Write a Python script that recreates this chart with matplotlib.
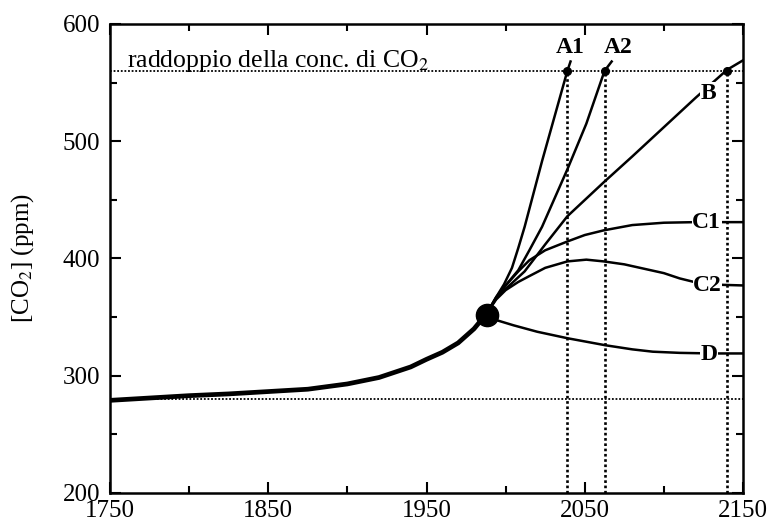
import matplotlib
matplotlib.use('Agg')
import matplotlib.pyplot as plt

plt.rcParams['font.family'] = ['Liberation Serif', 'DejaVu Serif']
plt.rcParams['mathtext.fontset'] = 'stix'

# curva storica
anni_storici = [1750, 1775, 1800, 1825, 1850, 1875, 1900, 1920, 1940, 1950, 1960, 1970, 1980, 1988]
co2_storico = [279, 281, 283, 284.5, 286.5, 288.5, 293, 298.5, 307.5, 314, 320, 328, 340, 353]

# scenari futuri
anni_A1 = [1988, 1994, 1999, 2004, 2008, 2012, 2023, 2039, 2041]
co2_A1 = [353, 367, 378, 392, 409, 427, 483, 560, 568]

anni_A2 = [1988, 1994, 2000, 2008, 2015, 2023, 2039, 2051, 2062.5, 2067]
co2_A2 = [353, 367, 377, 390, 407, 427, 476, 515, 560, 568]

anni_B = [1988, 1994, 2000, 2012, 2025, 2039, 2062, 2080, 2104, 2120, 2140, 2150]
co2_B = [353, 366, 374, 389, 412, 436, 465, 487, 517, 537, 561, 569]

anni_C1 = [1988, 1994, 2000, 2008, 2015, 2025, 2039, 2050, 2062, 2080, 2100, 2120, 2150]
co2_C1 = [353, 366, 377, 389, 398.5, 407, 414.5, 420, 424, 428.5, 430.5, 431, 431]

anni_C2 = [1988, 1994, 2000, 2008, 2015, 2025, 2039, 2051, 2062, 2075, 2085, 2100, 2110, 2125, 2150]
co2_C2 = [353, 365, 373, 380, 385, 392, 397.5, 399, 397.5, 395, 392, 387.5, 383, 378, 377]

anni_D = [1988, 1994, 2005, 2020, 2039, 2063, 2080, 2093, 2110, 2130, 2150]
co2_D = [352, 347.5, 343, 337.5, 332, 326, 322.5, 320.5, 319.5, 319, 319]

scenari = ['A1', 'A2', 'B', 'C1', 'C2', 'D']
pos_etichette = [(2041, 580), (2071, 580), (2128, 541), (2127, 430.5), (2127.5, 377), (2128.5, 318.5)]

co2_preindustriale = 280
co2_doppio = 560
anni_raddoppio = [2039, 2062.5, 2140]
punto_oggi = (1988, 352)

fig = plt.figure(figsize=(7.71, 5.25), dpi=100)
ax = fig.add_axes([0.1427, 0.061, 0.821, 0.8933])

dotted = (0, (1, 1))
ax.axhline(co2_doppio, color='black', lw=1.3, ls=dotted)
ax.axhline(co2_preindustriale, color='black', lw=1.3, ls=dotted)
ax.vlines(anni_raddoppio, 200, co2_doppio, colors='black', lw=1.9, linestyles=[dotted])

ax.plot(anni_storici, co2_storico, color='black', lw=3.4, solid_capstyle='round')
for xs, ys in [(anni_A1, co2_A1), (anni_A2, co2_A2), (anni_B, co2_B),
               (anni_C1, co2_C1), (anni_C2, co2_C2), (anni_D, co2_D)]:
    ax.plot(xs, ys, color='black', lw=1.8)

ax.plot(anni_raddoppio, [co2_doppio] * len(anni_raddoppio), 'o', color='black', ms=5.5)
ax.plot(*punto_oggi, 'o', color='black', ms=16)

for nome, (x, y) in zip(scenari, pos_etichette):
    ax.text(x, y, nome, fontsize=17, fontweight='bold', ha='center', va='center',
            bbox=dict(facecolor='white', edgecolor='none', pad=0.3))

ax.text(1761, co2_doppio + 3, 'raddoppio della conc. di CO$_2$', fontsize=18.5, va='baseline')

ax.set_xlim(1750, 2150)
ax.set_ylim(200, 600)
ax.set_xticks([1750, 1850, 1950, 2050, 2150])
ax.set_xticks([1800, 1900, 2000, 2100], minor=True)
ax.set_yticks([200, 300, 400, 500, 600])
ax.set_yticks([250, 350, 450, 550], minor=True)
ax.tick_params(which='both', direction='in', top=True, right=True, width=1.5, labelsize=18)
ax.tick_params(which='major', length=8)
ax.tick_params(which='minor', length=5)
ax.tick_params(axis='x', pad=5)
ax.tick_params(axis='y', pad=7)
for s in ax.spines.values():
    s.set_linewidth(1.8)

ax.set_ylabel('[CO$_2$] (ppm)', fontsize=18)
ax.yaxis.set_label_coords(-0.117, 0.5)

fig.savefig('out.png', dpi=100)
